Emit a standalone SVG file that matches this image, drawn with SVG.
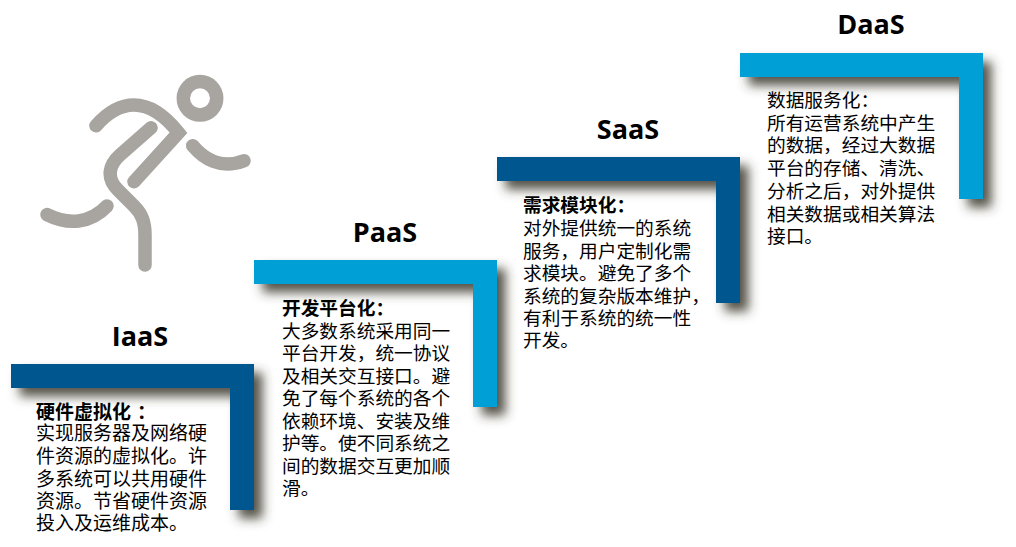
<svg xmlns="http://www.w3.org/2000/svg" width="1016" height="547" viewBox="0 0 1016 547">
<style>
.t{font-family:"Noto Sans CJK SC","Liberation Sans",sans-serif;font-size:18.7px;fill:#000}
.b{font-weight:700}
.h{font-family:"Open Sans","Noto Sans",sans-serif;font-size:27px;font-weight:700;fill:#000;text-anchor:middle}
.dark{fill:#00568f}
.light{fill:#009fd6}
.m{fill:none;stroke:#a8a5a0;stroke-width:13.5;stroke-linecap:round}
</style>
<defs>
<filter id="s" x="-20%" y="-20%" width="140%" height="140%">
<feDropShadow dx="8.5" dy="8.5" stdDeviation="5.5" flood-color="#3a342c" flood-opacity="0.85"/>
</filter>
</defs>
<rect width="1016" height="547" fill="#fff"/>
<g id="runner">
<circle class="m" cx="200" cy="98.3" r="16.7"/>
<path class="m" stroke-miterlimit="10" d="M96 125.7C108 112 120 105 134 105C152 105 166 117 178.5 132.7L134 181.7"/>
<path class="m" d="M151 127.7L120 155C110 164 105 177 118 190L134 206C142 214 145 222 145 235V265"/>
<path class="m" d="M47 214.6C68 225 90 224 107 206"/>
<path class="m" d="M192.7 145.7C203 158 220 170 244 160.7"/>
</g>
<g id="iaas">
<path class="dark" filter="url(#s)" d="M11 364H254V510H230V388H11Z"/>
<text class="h" x="140" y="346">IaaS</text>
<text class="t" style="font-size:19px"><tspan class="b" x="36" y="419">硬件虚拟化<tspan dx="6">：</tspan></tspan><tspan x="36" y="440">实现服务器及网络硬</tspan><tspan x="36" y="463">件资源的虚拟化。许</tspan><tspan x="36" y="486">多系统可以共用硬件</tspan><tspan x="36" y="508">资源。节省硬件资源</tspan><tspan x="36" y="530">投入及运维成本。</tspan></text>
</g>
<g id="paas">
<path class="light" filter="url(#s)" d="M254 260H497V407H473V284H254Z"/>
<text class="h" x="385" y="242">PaaS</text>
<text class="t"><tspan class="b" x="282" y="315">开发平台化：</tspan><tspan x="282" y="338">大多数系统采用同一</tspan><tspan x="282" y="360">平台开发，统一协议</tspan><tspan x="282" y="383">及相关交互接口。避</tspan><tspan x="282" y="405">免了每个系统的各个</tspan><tspan x="282" y="428">依赖环境、安装及维</tspan><tspan x="282" y="450">护等。使不同系统之</tspan><tspan x="282" y="473">间的数据交互更加顺</tspan><tspan x="282" y="495">滑。</tspan></text>
</g>
<g id="saas">
<path class="dark" filter="url(#s)" d="M497 157H740V303H716V181H497Z"/>
<text class="h" x="628" y="139">SaaS</text>
<text class="t"><tspan class="b" x="523" y="212">需求模块化：</tspan><tspan x="523" y="235">对外提供统一的系统</tspan><tspan x="523" y="258">服务，用户定制化需</tspan><tspan x="523" y="280">求模块。避免了多个</tspan><tspan x="523" y="303">系统的复杂版本维护，</tspan><tspan x="523" y="325">有利于系统的统一性</tspan><tspan x="523" y="347">开发。</tspan></text>
</g>
<g id="daas">
<path class="light" filter="url(#s)" d="M740 53H983V199H959V77H740Z"/>
<text class="h" x="871" y="34">DaaS</text>
<text class="t"><tspan x="767" y="107">数据服务化：</tspan><tspan x="767" y="130">所有运营系统中产生</tspan><tspan x="767" y="152">的数据，经过大数据</tspan><tspan x="767" y="175">平台的存储、清洗、</tspan><tspan x="767" y="198">分析之后，对外提供</tspan><tspan x="767" y="221">相关数据或相关算法</tspan><tspan x="767" y="243">接口。</tspan></text>
</g>
<g id="connectors"></g>
</svg>
